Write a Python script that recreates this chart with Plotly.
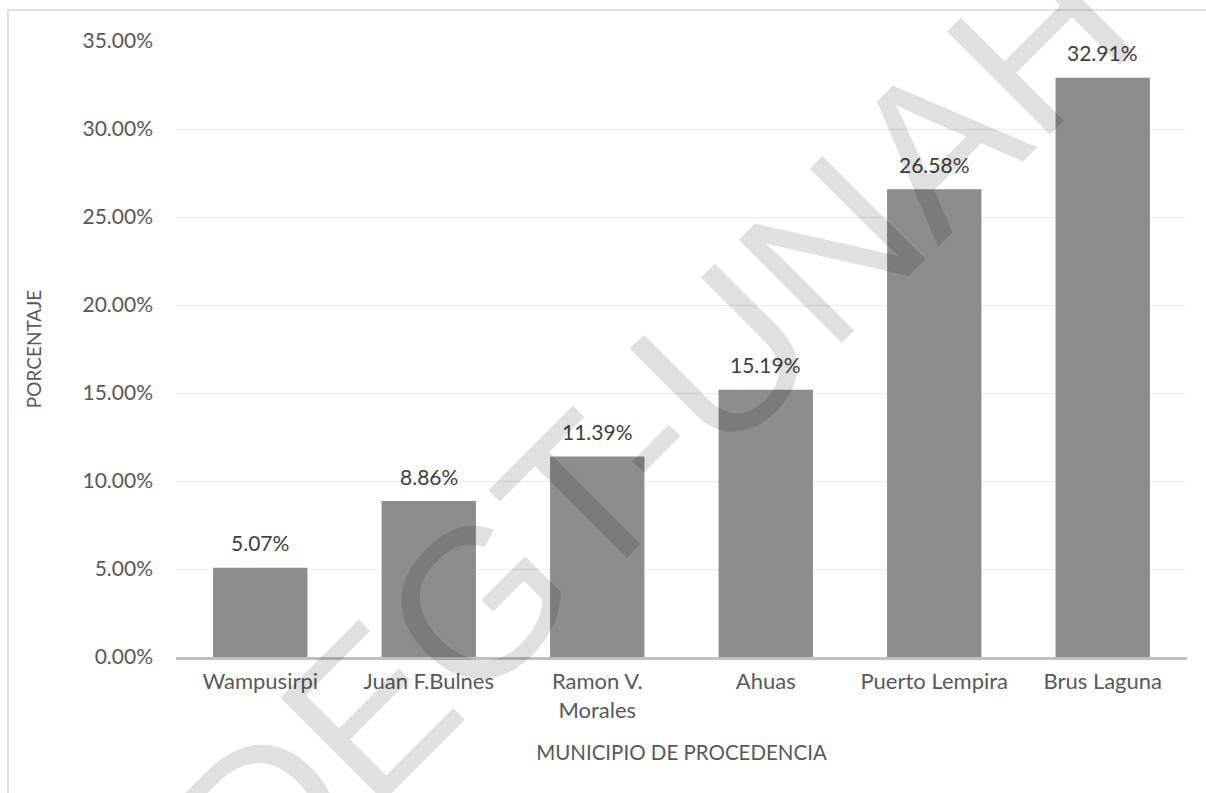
import plotly.graph_objects as go

categories = ["Wampusirpi", "Juan F.Bulnes", "Ramon V.<br>Morales", "Ahuas", "Puerto Lempira", "Brus Laguna"]
values = [5.07, 8.86, 11.39, 15.19, 26.58, 32.91]
labels = ["5.07%", "8.86%", "11.39%", "15.19%", "26.58%", "32.91%"]
y_ticks = [0, 5, 10, 15, 20, 25, 30, 35]
y_tick_text = ["0.00%", "5.00%", "10.00%", "15.00%", "20.00%", "25.00%", "30.00%", "35.00%"]

W, H = 1206, 793
ml, mr, mt, mb = 176, 19, 41, 136
pw, ph = W - ml - mr, H - mt - mb
FONT = "Lato"

fig = go.Figure()
fig.add_trace(go.Bar(
    x=categories, y=values,
    marker=dict(color="#8d8d8d", line=dict(width=0)),
    hoverinfo="skip",
))

# data labels above bars
for c, v, t in zip(categories, values, labels):
    fig.add_annotation(x=c, y=v, text=t, showarrow=False, yshift=25,
                       font=dict(family=FONT, size=21, color="#404040"))

fig.update_layout(
    width=W, height=H,
    margin=dict(l=ml, r=mr, t=mt, b=mb, autoexpand=False),
    paper_bgcolor="white", plot_bgcolor="white",
    bargap=0.44,
    showlegend=False,
    font=dict(family=FONT, color="#595959", size=20),
)
fig.update_xaxes(
    showline=True, linecolor="#c0c0c0", linewidth=2.5,
    showgrid=False, ticks="",
    ticklabelstandoff=3,
    tickfont=dict(family=FONT, size=22, color="#595959"),
    title=dict(text="MUNICIPIO DE PROCEDENCIA", font=dict(family=FONT, size=20.5, color="#595959"), standoff=24),
)
fig.update_yaxes(
    range=[0, 35], tickvals=y_ticks, ticktext=y_tick_text,
    showgrid=True, gridcolor="#eaeaea", gridwidth=1,
    zeroline=False, showline=False, ticks="",
    ticklabelstandoff=22,
    tickfont=dict(family=FONT, size=21, color="#595959"),
    title=dict(text="PORCENTAJE", font=dict(family=FONT, size=19, color="#595959"), standoff=35),
)

# chart frame border (left and top visible)
bx = (8 - ml) / pw
by = 1 + (mt - 10) / ph
fig.add_shape(type="line", xref="paper", yref="paper", x0=bx, x1=bx, y0=by, y1=-0.5,
              line=dict(color="#d9d9d9", width=1.5))
fig.add_shape(type="line", xref="paper", yref="paper", x0=bx, x1=1.5, y0=by, y1=by,
              line=dict(color="#d9d9d9", width=1.5))

# watermark
fig.add_annotation(
    text="DEGT-UNAH", xref="paper", yref="paper",
    x=(652 - ml) / pw, y=1 - (428 - mt) / ph,
    showarrow=False, textangle=-45,
    font=dict(family="Liberation Sans", size=212, color="rgba(0,0,0,0.12)"),
)

fig.write_html("out.html")
